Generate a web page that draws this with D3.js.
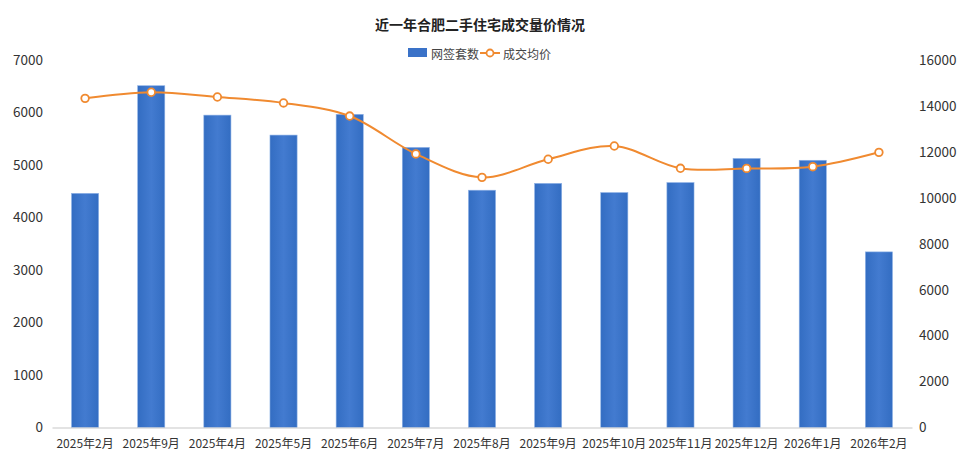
<!DOCTYPE html>
<html>
<head>
<meta charset="utf-8">
<script src="https://cdn.jsdelivr.net/npm/d3@7"></script>
<style>
  body { margin: 0; background: #fff; }
  svg { display: block; font-family: "Noto Sans CJK SC", "Noto Sans", sans-serif; }
</style>
</head>
<body>
<div id="chart"></div>
<script>
var months = ["2025年2月", "2025年9月", "2025年4月", "2025年5月", "2025年6月", "2025年7月",
              "2025年8月", "2025年9月", "2025年10月", "2025年11月", "2025年12月", "2026年1月", "2026年2月"];
var deals = [4460, 6510, 5950, 5570, 5965, 5335, 4520, 4650, 4475, 4665, 5125, 5090, 3345];
var prices = [14330, 14595, 14390, 14130, 13560, 11910, 10890, 11680, 12255, 11285, 11280, 11355, 11980];
var leftTicks = [0, 1000, 2000, 3000, 4000, 5000, 6000, 7000];
var rightTicks = [0, 2000, 4000, 6000, 8000, 10000, 12000, 14000, 16000];

var width = 960, height = 460;
var margin = {top: 60, right: 48, bottom: 32.5, left: 52};

var svg = d3.select("#chart").append("svg")
    .attr("width", width)
    .attr("height", height);

var defs = svg.append("defs");
var grad = defs.append("linearGradient").attr("id", "barfill")
    .attr("x1", "0%").attr("x2", "100%").attr("y1", "0%").attr("y2", "0%");
grad.append("stop").attr("offset", "0%").attr("stop-color", "#336dc2");
grad.append("stop").attr("offset", "50%").attr("stop-color", "#437bd0");
grad.append("stop").attr("offset", "100%").attr("stop-color", "#336dc2");

var x = d3.scaleBand()
    .domain(d3.range(months.length))
    .range([margin.left, width - margin.right])
    .paddingInner(0.59)
    .paddingOuter(0.295);

var yL = d3.scaleLinear().domain([0, 7000]).range([height - margin.bottom, margin.top]);
var yR = d3.scaleLinear().domain([0, 16000]).range([height - margin.bottom, margin.top]);

// title
svg.append("text")
    .attr("x", 480).attr("y", 24)
    .attr("text-anchor", "middle")
    .attr("dominant-baseline", "central")
    .attr("font-size", 14).attr("font-weight", "bold")
    .attr("fill", "#222")
    .text("近一年合肥二手住宅成交量价情况");

// legend
var leg = svg.append("g").attr("font-size", 12).attr("fill", "#444");
leg.append("rect").attr("x", 408).attr("y", 48).attr("width", 19).attr("height", 9).attr("fill", "#3a72c8");
leg.append("text").attr("x", 431).attr("y", 53).attr("dominant-baseline", "central").text("网签套数");
leg.append("line").attr("x1", 480).attr("x2", 500).attr("y1", 53).attr("y2", 53)
    .attr("stroke", "#f08a30").attr("stroke-width", 2);
leg.append("circle").attr("cx", 490).attr("cy", 53).attr("r", 3.5)
    .attr("fill", "#fff").attr("stroke", "#f08a30").attr("stroke-width", 1.8);
leg.append("text").attr("x", 503).attr("y", 53).attr("dominant-baseline", "central").text("成交均价");

// axes
var leftAxis = svg.append("g")
    .attr("transform", "translate(" + margin.left + ",0)")
    .call(d3.axisLeft(yL).tickValues(leftTicks).tickFormat(d3.format("d")).tickSize(0).tickPadding(9));
leftAxis.select(".domain").remove();

var rightAxis = svg.append("g")
    .attr("transform", "translate(" + (width - margin.right) + ",0)")
    .call(d3.axisRight(yR).tickValues(rightTicks).tickFormat(d3.format("d")).tickSize(0).tickPadding(7));
rightAxis.select(".domain").remove();

svg.selectAll(".tick text")
    .attr("font-size", 13.5)
    .attr("fill", "#333")
    .style("font-family", "\"Noto Sans CJK SC\", sans-serif");

// bars
svg.append("g").selectAll("rect")
    .data(deals)
    .join("rect")
    .attr("x", (d, i) => x(i))
    .attr("width", x.bandwidth())
    .attr("y", d => yL(d))
    .attr("height", d => yL(0) - yL(d))
    .attr("fill", "url(#barfill)")
    .attr("stroke", "#8fb2e6")
    .attr("stroke-width", 0.6);

// baseline
var bottomAxis = svg.append("g")
    .attr("transform", "translate(0," + yL(0) + ")")
    .call(d3.axisBottom(x).tickSize(0).tickPadding(12).tickFormat(i => months[i]));
bottomAxis.select(".domain").attr("stroke", "#c8c8c8").attr("stroke-width", 1.2);
bottomAxis.selectAll("text")
    .attr("font-size", 12)
    .attr("fill", "#333")
    .style("font-family", "\"Noto Sans CJK SC\", sans-serif");

// price line
var line = d3.line()
    .x((d, i) => x(i) + x.bandwidth() / 2)
    .y(d => yR(d))
    .curve(d3.curveCatmullRom.alpha(0.5));

svg.append("path")
    .datum(prices)
    .attr("d", line)
    .attr("fill", "none")
    .attr("stroke", "#f08a30")
    .attr("stroke-width", 2);

svg.append("g").selectAll("circle")
    .data(prices)
    .join("circle")
    .attr("cx", (d, i) => x(i) + x.bandwidth() / 2)
    .attr("cy", d => yR(d))
    .attr("r", 3.8)
    .attr("fill", "#fff")
    .attr("stroke", "#f08a30")
    .attr("stroke-width", 1.8);
</script>
</body>
</html>
